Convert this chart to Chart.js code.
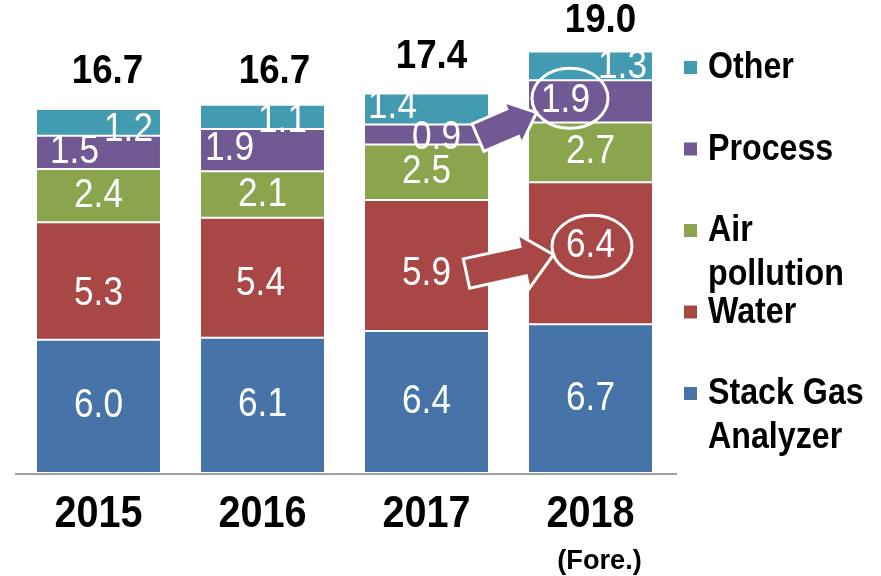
<!DOCTYPE html>
<html>
<head>
<meta charset="utf-8">
<script src="https://cdn.jsdelivr.net/npm/chart.js@4.4.1/dist/chart.umd.min.js"></script>
<style>
  html, body { margin: 0; padding: 0; background: #fff; }
</style>
</head>
<body>
<canvas id="chart" width="881" height="576"></canvas>
<script>
// datos
const years = ['2015', '2016', '2017', '2018'];
const yearNotes = ['', '', '', '(Fore.)'];
const stackGas = [6.0, 6.1, 6.4, 6.7];
const water = [5.3, 5.4, 5.9, 6.4];
const airPollution = [2.4, 2.1, 2.5, 2.7];
const processVals = [1.5, 1.9, 0.9, 1.9];
const other = [1.2, 1.1, 1.4, 1.3];
const totals = [16.7, 16.7, 17.4, 19.0];
const seriesNames = ['Stack Gas Analyzer', 'Water', 'Air pollution', 'Process', 'Other'];

// estilos
const seriesColors = ['#4673a8', '#a84745', '#8aa54e', '#725994', '#439bb1'];
const FONT = '"Liberation Sans", Arial, sans-serif';
// desplazamiento de cada etiqueta [dx, dy] por serie y año
const labelNudges = [
  [[0, 0], [0, 0], [0, 0], [0, 0]],
  [[0, 13], [-2, 6], [0, 8], [0, -7]],
  [[0, 0], [0, 0], [0, 0], [0, 0]],
  [[-24, 0], [-33, -1], [10, 3], [-25, 0]],
  [[30, 8], [20, 4], [-34, -2], [32, 1]]
];
const totalNudgeX = [9, 12, 5, 10];
// flechas 2017 -> 2018 con círculo
const highlights = [
  { series: 3, from: 2, to: 3, tailInset: 11, ringDx: 4.5, ringDy: -3, rx: 38, ry: 30, shaft: 30, head: 46, headLen: 26 },
  { series: 1, from: 2, to: 3, tailInset: 22.5, ringDx: 1.5, ringDy: 0, rx: 40, ry: 31, shaft: 30, head: 56, headLen: 31 }
];

// texto algo comprimido en horizontal (la fuente original es estrecha)
function drawText(ctx, text, x, y, font, sx, color, align) {
  ctx.save();
  ctx.font = font;
  ctx.fillStyle = color;
  ctx.textBaseline = 'middle';
  ctx.textAlign = align || 'center';
  ctx.translate(x, y);
  ctx.scale(sx, 1);
  ctx.fillText(text, 0, 0);
  ctx.restore();
}

function labelPos(chart, di, i) {
  const bar = chart.getDatasetMeta(di).data[i];
  const [dx, dy] = labelNudges[di][i];
  return { x: bar.x + dx, y: (bar.y + bar.base) / 2 + dy, bar: bar };
}

function drawArrow(ctx, x0, y0, x1, y1, shaft, head, headLen, color) {
  const len = Math.hypot(x1 - x0, y1 - y0);
  const ang = Math.atan2(y1 - y0, x1 - x0);
  ctx.save();
  ctx.translate(x0, y0);
  ctx.rotate(ang);
  ctx.beginPath();
  ctx.moveTo(0, -shaft / 2);
  ctx.lineTo(len - headLen, -shaft / 2);
  ctx.lineTo(len - headLen, -head / 2);
  ctx.lineTo(len, 0);
  ctx.lineTo(len - headLen, head / 2);
  ctx.lineTo(len - headLen, shaft / 2);
  ctx.lineTo(0, shaft / 2);
  ctx.closePath();
  ctx.fillStyle = color;
  ctx.fill();
  ctx.lineWidth = 3;
  ctx.strokeStyle = '#fff';
  ctx.lineJoin = 'miter';
  ctx.stroke();
  ctx.restore();
}

// línea del eje x, algo más larga que el área de barras
const axisLinePlugin = {
  id: 'axisLine',
  beforeDatasetsDraw(chart) {
    const ctx = chart.ctx;
    const a = chart.chartArea;
    ctx.save();
    ctx.strokeStyle = '#a0a0a0';
    ctx.lineWidth = 2;
    ctx.beginPath();
    ctx.moveTo(a.left - 1.5, a.bottom + 1);
    ctx.lineTo(a.right + 4.5, a.bottom + 1);
    ctx.stroke();
    ctx.restore();
  }
};

const labelsPlugin = {
  id: 'valueLabels',
  afterDatasetsDraw(chart) {
    const ctx = chart.ctx;
    const yScale = chart.scales.y;
    const xScale = chart.scales.x;

    // valores dentro de cada segmento
    chart.data.datasets.forEach((ds, di) => {
      ds.data.forEach((v, i) => {
        const p = labelPos(chart, di, i);
        drawText(ctx, v.toFixed(1), p.x, p.y, '40px ' + FONT, 0.88, '#fff');
      });
    });

    // totales arriba
    totals.forEach((t, i) => {
      const bar = chart.getDatasetMeta(0).data[i];
      drawText(ctx, t.toFixed(1), bar.x + totalNudgeX[i], yScale.getPixelForValue(t) - 30, 'bold 40px ' + FONT, 0.92, '#000');
    });

    // flechas y círculos
    highlights.forEach(h => {
      const a = labelPos(chart, h.series, h.from);
      const b = labelPos(chart, h.series, h.to);
      const cx = b.x + h.ringDx, cy = b.y + h.ringDy;
      const tx = a.bar.x + a.bar.width / 2 - h.tailInset, ty = a.y;
      const dx = cx - tx, dy = cy - ty;
      const t = 1 / Math.sqrt((dx / h.rx) ** 2 + (dy / h.ry) ** 2);
      drawArrow(ctx, tx, ty, cx - dx * t, cy - dy * t, h.shaft, h.head, h.headLen, seriesColors[h.series]);
      ctx.save();
      ctx.beginPath();
      ctx.ellipse(cx, cy, h.rx, h.ry, 0, 0, Math.PI * 2);
      ctx.lineWidth = 3;
      ctx.strokeStyle = '#fff';
      ctx.stroke();
      ctx.restore();
    });

    // años y nota bajo el eje
    years.forEach((yr, i) => {
      const x = xScale.getPixelForValue(i);
      drawText(ctx, yr, x, xScale.top + 42, 'bold 44px ' + FONT, 0.9, '#000');
      if (yearNotes[i]) drawText(ctx, yearNotes[i], x + 9, xScale.top + 88, 'bold 28px ' + FONT, 0.97, '#000');
    });
  }
};

// leyenda a la derecha, en orden inverso
const legendPlugin = {
  id: 'sideLegend',
  afterDraw(chart) {
    const ctx = chart.ctx;
    const boxX = 684, textX = 708, top = 68, step = 81.5, lineGap = 44, sx = 0.87;
    const font = 'bold 37px ' + FONT;
    const maxW = chart.width - textX - 4;
    ctx.save();
    ctx.font = font;
    const order = seriesNames.map((_, i) => i).reverse();
    order.forEach((si, k) => {
      const y = top + k * step;
      ctx.fillStyle = seriesColors[si];
      ctx.fillRect(boxX, y - 7, 13, 13);
      const words = seriesNames[si].split(' ');
      const lines = [];
      let line = '';
      words.forEach(w => {
        const test = line ? line + ' ' + w : w;
        if (line && ctx.measureText(test).width * sx > maxW) { lines.push(line); line = w; }
        else line = test;
      });
      lines.push(line);
      lines.forEach((l, j) => drawText(ctx, l, textX, y + j * lineGap, font, sx, '#000', 'left'));
    });
    ctx.restore();
  }
};

const datasets = [stackGas, water, airPollution, processVals, other].map((d, i) => ({
  label: seriesNames[i],
  data: d,
  backgroundColor: seriesColors[i],
  borderColor: '#fff',
  borderWidth: 1,
  borderSkipped: false,
  barPercentage: 0.762,
  categoryPercentage: 1
}));

new Chart(document.getElementById('chart'), {
  type: 'bar',
  data: { labels: years, datasets: datasets },
  options: {
    responsive: false,
    animation: false,
    devicePixelRatio: 1,
    layout: { padding: { left: 16.5, right: 208.5, top: 7, bottom: 0 } },
    plugins: { legend: { display: false }, tooltip: { enabled: false } },
    scales: {
      x: {
        stacked: true,
        grid: { display: false },
        border: { display: false },
        ticks: { display: false },
        afterFit(scale) { scale.height = 103; }
      },
      y: { stacked: true, display: false, min: 0, max: 21 }
    }
  },
  plugins: [axisLinePlugin, labelsPlugin, legendPlugin]
});
</script>
</body>
</html>
